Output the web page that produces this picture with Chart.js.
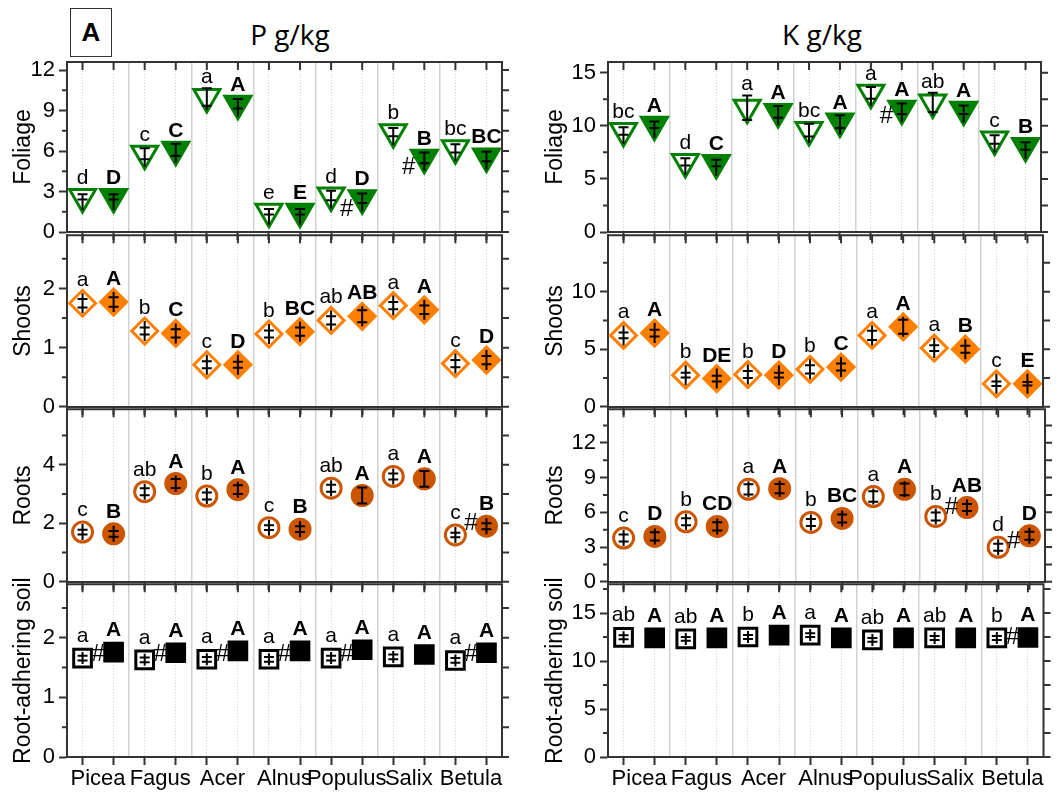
<!DOCTYPE html>
<html><head>
<meta charset="UTF-8">
<title>P and K concentrations by tissue</title>
<script src="https://cdn.jsdelivr.net/npm/chart.js@4.4.1/dist/chart.umd.min.js"></script>
<style>
    body { margin: 0; background: #fff; font-family: 'Liberation Sans', Arial, sans-serif; }
    #page { position: relative; width: 1059px; height: 795px; overflow: hidden; }
    #page canvas { position: absolute; }
    .coltitle { position: absolute; top: 15px; font-family: 'Open Sans', sans-serif; font-size: 28px; color: #000; transform: translateX(-50%); white-space: nowrap; }
    .tag { position: absolute; left: 70px; top: 8px; width: 40px; height: 47px; border: 1.5px solid #333;
           font-weight: bold; font-size: 26px; line-height: 47px; text-align: center; }
</style>
</head>
<body>
<div id="page">
    <div class="tag">A</div>
    <div class="coltitle" style="left:290px">P g/kg</div>
    <div class="coltitle" style="left:822px">K g/kg</div>
</div>
<script>
const species = ['Picea', 'Fagus', 'Acer', 'Alnus', 'Populus', 'Salix', 'Betula'];
const tissues = ['Foliage', 'Shoots', 'Roots', 'Root-adhering soil'];

// y axis tick labels and ranges
const pTicks = [[0, 3, 6, 9, 12], [0, 1, 2], [0, 2, 4], [0, 1, 2]];
const kTicks = [[0, 5, 10, 15], [0, 5, 10], [0, 3, 6, 9, 12], [0, 5, 10, 15]];
const pMax = [12.6, 2.9, 5.9, 2.9];
const kMax = [16, 14.9, 14.9, 18];

// P g/kg  (open = first series, filled = second series)
const pFoliageOpen = [2.6, 5.8, 10.0, 1.5, 2.7, 7.4, 6.2];
const pFoliageOpenErr = [0.2, 0.4, 0.65, 0.2, 0.35, 0.3, 0.3];
const pFoliageFilled = [2.6, 6.1, 9.5, 1.5, 2.5, 5.5, 5.6];
const pFoliageFilledErr = [0.2, 0.45, 0.35, 0.2, 0.35, 0.4, 0.35];
const pFoliageLetters = ['d', 'c', 'a', 'e', 'd', 'b', 'bc'];
const pFoliageLettersFilled = ['D', 'C', 'A', 'E', 'D', 'B', 'BC'];
const pFoliageHash = [[4, 1.7], [5, 4.8]];

const pShootsOpen = [1.75, 1.28, 0.71, 1.23, 1.46, 1.71, 0.73];
const pShootsOpenErr = [0.07, 0.06, 0.06, 0.06, 0.07, 0.06, 0.06];
const pShootsFilled = [1.77, 1.24, 0.71, 1.27, 1.53, 1.64, 0.79];
const pShootsFilledErr = [0.08, 0.07, 0.05, 0.07, 0.1, 0.07, 0.07];
const pShootsLetters = ['a', 'b', 'c', 'b', 'ab', 'a', 'c'];
const pShootsLettersFilled = ['A', 'C', 'D', 'BC', 'AB', 'A', 'D'];
const pShootsHash = [];

const pRootsOpen = [1.7, 3.08, 2.93, 1.85, 3.2, 3.6, 1.6];
const pRootsOpenErr = [0.08, 0.12, 0.12, 0.08, 0.12, 0.1, 0.08];
const pRootsFilled = [1.64, 3.36, 3.15, 1.8, 2.95, 3.52, 1.9];
const pRootsFilledErr = [0.1, 0.15, 0.15, 0.1, 0.27, 0.27, 0.1];
const pRootsLetters = ['c', 'ab', 'b', 'c', 'ab', 'a', 'c'];
const pRootsLettersFilled = ['B', 'A', 'A', 'B', 'A', 'A', 'B'];
const pRootsHash = [[6, 2.0]];

const pSoilOpen = [1.66, 1.63, 1.64, 1.64, 1.66, 1.68, 1.62];
const pSoilOpenErr = [0.04, 0.04, 0.04, 0.04, 0.04, 0.04, 0.04];
const pSoilFilled = [1.76, 1.75, 1.78, 1.78, 1.8, 1.72, 1.75];
const pSoilFilledErr = [0.03, 0.03, 0.03, 0.03, 0.03, 0.03, 0.03];
const pSoilLetters = ['a', 'a', 'a', 'a', 'a', 'a', 'a'];
const pSoilLettersFilled = ['A', 'A', 'A', 'A', 'A', 'A', 'A'];
const pSoilHash = [[0, 1.73], [1, 1.73], [2, 1.73], [3, 1.73], [4, 1.73], [6, 1.73]];

// K g/kg
const kFoliageOpen = [9.5, 6.6, 11.7, 9.6, 13.1, 12.2, 8.7];
const kFoliageOpenErr = [0.35, 0.35, 1.15, 0.6, 0.55, 0.9, 0.4];
const kFoliageFilled = [10.1, 6.5, 11.3, 10.4, 11.6, 11.5, 8.1];
const kFoliageFilledErr = [0.3, 0.3, 0.55, 0.6, 0.5, 0.4, 0.35];
const kFoliageLetters = ['bc', 'd', 'a', 'bc', 'a', 'ab', 'c'];
const kFoliageLettersFilled = ['A', 'C', 'A', 'A', 'A', 'A', 'B'];
const kFoliageHash = [[4, 10.9]];

const kShootsOpen = [6.2, 2.75, 2.8, 3.25, 6.2, 5.1, 2.0];
const kShootsOpenErr = [0.25, 0.2, 0.3, 0.35, 0.4, 0.25, 0.2];
const kShootsFilled = [6.4, 2.45, 2.75, 3.45, 6.95, 5.0, 2.0];
const kShootsFilledErr = [0.3, 0.25, 0.2, 0.3, 0.6, 0.3, 0.15];
const kShootsLetters = ['a', 'b', 'b', 'b', 'a', 'a', 'c'];
const kShootsLettersFilled = ['A', 'DE', 'D', 'C', 'A', 'B', 'E'];
const kShootsHash = [];

const kRootsOpen = [3.78, 5.18, 7.98, 5.12, 7.36, 5.64, 2.98];
const kRootsOpenErr = [0.3, 0.3, 0.45, 0.3, 0.45, 0.35, 0.3];
const kRootsFilled = [3.92, 4.78, 8.04, 5.47, 7.98, 6.41, 3.97];
const kRootsFilledErr = [0.35, 0.35, 0.4, 0.35, 0.5, 0.3, 0.35];
const kRootsLetters = ['c', 'b', 'a', 'b', 'a', 'b', 'd'];
const kRootsLettersFilled = ['D', 'CD', 'A', 'BC', 'A', 'AB', 'D'];
const kRootsHash = [[5, 6.4], [6, 3.5]];

const kSoilOpen = [12.47, 12.3, 12.5, 12.7, 12.2, 12.4, 12.4];
const kSoilOpenErr = [0.2, 0.2, 0.2, 0.2, 0.2, 0.2, 0.2];
const kSoilFilled = [12.4, 12.4, 12.7, 12.4, 12.4, 12.4, 12.45];
const kSoilFilledErr = [0.2, 0.2, 0.2, 0.2, 0.2, 0.2, 0.2];
const kSoilLetters = ['ab', 'ab', 'b', 'a', 'ab', 'ab', 'b'];
const kSoilLettersFilled = ['A', 'A', 'A', 'A', 'A', 'A', 'A'];
const kSoilHash = [[6, 12.5]];

// ---- layout / styling ----
const rowsY = [[60, 234], [234, 408], [408, 583], [583, 757]];
const cols = [
    { left: 0, width: 530, padL: 10, yW: 57, padR: 28 },   // plot area 67..502
    { left: 530, width: 529, padL: 12, yW: 66, padR: 14 }  // plot area 608..1045
];
const markers = [
    { style: 'triangle', rot: 180, r: 15, color: '#008000', up: 2, down: 13, gap: 13 },
    { style: 'rectRot', rot: 0, r: 13, color: '#ff7f00', up: 10, down: 10, gap: 17 },
    { style: 'circle', rot: 0, r: 10, color: '#cc5500', up: 8, down: 8, gap: 16 },
    { style: 'rect', rot: 0, r: 12.5, color: '#000000', up: 6, down: 6, gap: 16 }
];
const axisColor = '#333';
const PAD_TOP = 16;
const FONT = '"Liberation Sans", Arial, sans-serif';

const panels = [
    [pFoliageOpen, pFoliageOpenErr, pFoliageFilled, pFoliageFilledErr, pFoliageLetters, pFoliageLettersFilled, pFoliageHash],
    [pShootsOpen, pShootsOpenErr, pShootsFilled, pShootsFilledErr, pShootsLetters, pShootsLettersFilled, pShootsHash],
    [pRootsOpen, pRootsOpenErr, pRootsFilled, pRootsFilledErr, pRootsLetters, pRootsLettersFilled, pRootsHash],
    [pSoilOpen, pSoilOpenErr, pSoilFilled, pSoilFilledErr, pSoilLetters, pSoilLettersFilled, pSoilHash],
    [kFoliageOpen, kFoliageOpenErr, kFoliageFilled, kFoliageFilledErr, kFoliageLetters, kFoliageLettersFilled, kFoliageHash],
    [kShootsOpen, kShootsOpenErr, kShootsFilled, kShootsFilledErr, kShootsLetters, kShootsLettersFilled, kShootsHash],
    [kRootsOpen, kRootsOpenErr, kRootsFilled, kRootsFilledErr, kRootsLetters, kRootsLettersFilled, kRootsHash],
    [kSoilOpen, kSoilOpenErr, kSoilFilled, kSoilFilledErr, kSoilLetters, kSoilLettersFilled, kSoilHash]
];

// x ticks: points (1..14), species labels (pair centres), separators
const xTicks = [];
for (let i = 1; i <= 14; i++) xTicks.push(i);
species.forEach((s, i) => { xTicks.push(2 * i + 1.5); if (i > 0) xTicks.push(2 * i + 0.5); });
xTicks.sort((a, b) => a - b);
const isPoint = v => Number.isInteger(v);
const isSep = v => !isPoint(v) && Number.isInteger((v - 0.5) / 2);

function minorsOf(majors, max) {
    const step = majors[1] - majors[0];
    const out = [];
    majors.forEach(m => { if (m + step / 2 <= max) out.push(m + step / 2); });
    return out;
}

function decoPlugin(d, mk, majors, max) {
    return {
        id: 'deco',
        afterDatasetsDraw(chart) {
            const ctx = chart.ctx, xs = chart.scales.x, ys = chart.scales.y, a = chart.chartArea;
            ctx.save();
            // frame: top & right borders, mirrored ticks
            ctx.strokeStyle = axisColor;
            ctx.lineWidth = 2;
            ctx.beginPath();
            ctx.moveTo(a.left, a.top); ctx.lineTo(a.right, a.top); ctx.lineTo(a.right, a.bottom);
            for (let i = 1; i <= 14; i++) {
                const px = xs.getPixelForValue(i);
                ctx.moveTo(px, a.top); ctx.lineTo(px, a.top + 8);
            }
            majors.concat(minorsOf(majors, max)).forEach(v => {
                const py = ys.getPixelForValue(v);
                ctx.moveTo(a.right, py); ctx.lineTo(a.right + 7, py);
            });
            minorsOf(majors, max).forEach(v => {
                const py = ys.getPixelForValue(v);
                ctx.moveTo(a.left - 5, py); ctx.lineTo(a.left, py);
            });
            ctx.stroke();

            // error bars + letters
            const series = [[d[0], d[1], d[4], 1, 'normal'], [d[2], d[3], d[5], 2, 'bold']];
            series.forEach(([vals, errs, letters, off, weight]) => {
                vals.forEach((v, i) => {
                    const px = xs.getPixelForValue(2 * i + off);
                    const py = ys.getPixelForValue(v);
                    const hi = ys.getPixelForValue(v + errs[i]);
                    const lo = ys.getPixelForValue(v - errs[i]);
                    ctx.strokeStyle = '#000';
                    ctx.lineWidth = 2;
                    ctx.beginPath();
                    ctx.moveTo(px, Math.min(hi, py - mk.up));
                    ctx.lineTo(px, Math.max(lo, py + mk.down));
                    ctx.moveTo(px - 5, hi); ctx.lineTo(px + 5, hi);
                    ctx.moveTo(px - 5, lo); ctx.lineTo(px + 5, lo);
                    ctx.stroke();

                    ctx.fillStyle = '#000';
                    ctx.font = weight + ' 21px ' + FONT;
                    ctx.textAlign = 'center';
                    ctx.textBaseline = 'alphabetic';
                    ctx.fillText(letters[i], px, Math.min(py - mk.gap, hi - 5));
                });
            });
            // significance hashes between pairs
            ctx.font = '24px ' + FONT;
            ctx.textBaseline = 'middle';
            d[6].forEach(([i, v]) => {
                ctx.fillText('#', xs.getPixelForValue(2 * i + 1.5), ys.getPixelForValue(v));
            });
            ctx.restore();
        }
    };
}

const page = document.getElementById('page');

panels.forEach((d, idx) => {
    const colIdx = idx < 4 ? 0 : 1;
    const row = idx % 4;
    const col = cols[colIdx];
    const mk = markers[row];
    const majors = colIdx === 0 ? pTicks[row] : kTicks[row];
    const max = colIdx === 0 ? pMax[row] : kMax[row];
    const bottom = row === 3;
    const [t, b] = rowsY[row];
    const xH = bottom ? 795 - b : 16;
    const canvas = document.createElement('canvas');
    canvas.width = col.width;
    canvas.height = (b - t) + PAD_TOP + xH;
    canvas.style.left = col.left + 'px';
    canvas.style.top = (t - PAD_TOP) + 'px';
    page.appendChild(canvas);

    const pts = (vals, off) => vals.map((v, i) => ({ x: 2 * i + off, y: v }));

    new Chart(canvas, {
        type: 'scatter',
        data: {
            datasets: [
                { data: pts(d[0], 1), pointStyle: mk.style, rotation: mk.rot, pointRadius: mk.r,
                  backgroundColor: '#ffffff', borderColor: mk.color, borderWidth: 3 },
                { data: pts(d[2], 2), pointStyle: mk.style, rotation: mk.rot, pointRadius: mk.r,
                  backgroundColor: mk.color, borderColor: mk.color, borderWidth: 3 }
            ]
        },
        options: {
            responsive: false,
            animation: false,
            events: [],
            layout: { padding: { left: col.padL, right: col.padR, top: PAD_TOP, bottom: 0 } },
            plugins: { legend: { display: false }, tooltip: { enabled: false } },
            scales: {
                x: {
                    type: 'linear', min: 0.5, max: 14.5,
                    afterBuildTicks: s => { s.ticks = xTicks.map(v => ({ value: v })); },
                    afterFit: s => { s.height = xH; },
                    grid: {
                        color: c => c.tick ? (isPoint(c.tick.value) ? '#cfcfcf' : (isSep(c.tick.value) ? '#d2d2d2' : 'rgba(0,0,0,0)')) : 'rgba(0,0,0,0)',
                        lineWidth: c => c.tick && isSep(c.tick.value) ? 1.5 : 1,
                        tickColor: c => c.tick && isPoint(c.tick.value) ? axisColor : 'rgba(0,0,0,0)',
                        tickLength: 8, tickWidth: 2
                    },
                    border: { color: axisColor, width: 2, dash: c => c.tick && isPoint(c.tick.value) ? [1, 2] : [] },
                    ticks: {
                        display: bottom, autoSkip: false, maxRotation: 0, minRotation: 0, padding: 1,
                        color: '#000', font: { size: 22, family: FONT },
                        callback: v => { const k = (v - 1.5) / 2; return Number.isInteger(k) ? species[k] : ''; }
                    }
                },
                y: {
                    min: 0, max: max,
                    afterBuildTicks: s => { s.ticks = majors.map(v => ({ value: v })); },
                    afterFit: s => { s.width = col.yW; },
                    grid: { drawOnChartArea: false, tickLength: 8, tickWidth: 2, tickColor: axisColor },
                    border: { color: axisColor, width: 2 },
                    ticks: { color: '#000', padding: 4, font: { size: 22, family: FONT } },
                    title: { display: true, text: tissues[row], color: '#000', padding: { top: 0, bottom: 0 },
                             font: { size: 23, family: FONT } }
                }
            }
        },
        plugins: [decoPlugin(d, mk, majors, max)]
    });
});
</script>
</body></html>
